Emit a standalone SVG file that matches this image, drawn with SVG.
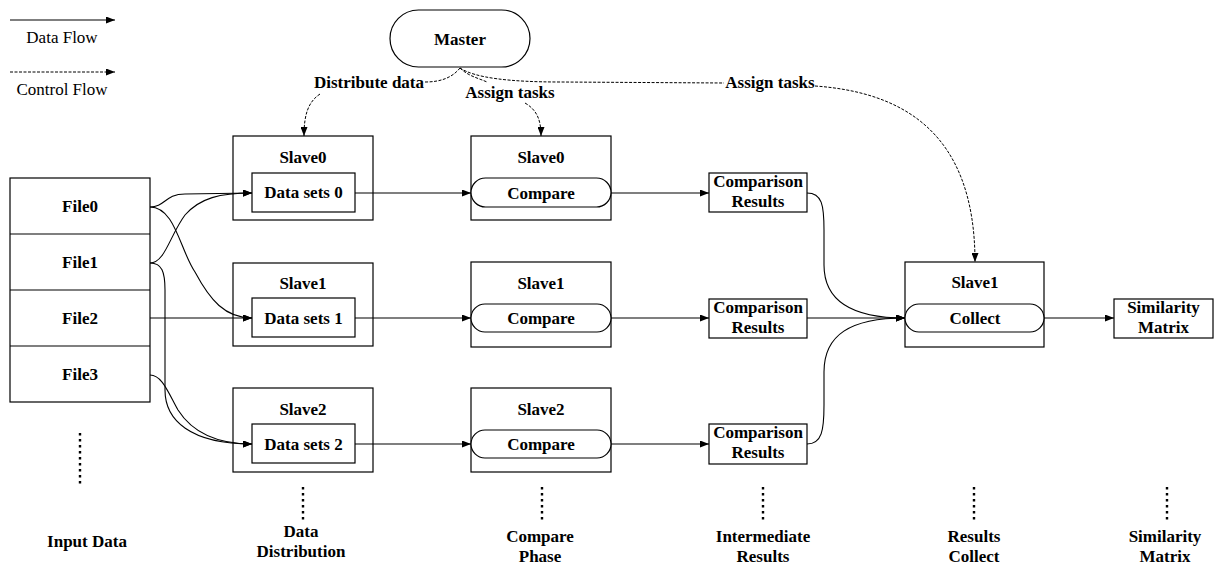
<svg xmlns="http://www.w3.org/2000/svg" width="1215" height="565" viewBox="0 0 1215 565">
<style>
text{font-family:"Liberation Serif","Times New Roman",serif;font-size:17px;fill:#000}
.b{font-weight:bold;text-anchor:middle}
.r{text-anchor:middle}
.box{fill:#fff;stroke:#000;stroke-width:1.2}
.c{fill:none;stroke:#000;stroke-width:1.1}
.d{fill:none;stroke:#000;stroke-width:1;stroke-dasharray:3 1.5}
.dot{fill:none;stroke:#000;stroke-width:2.4;stroke-dasharray:2.4 3.6}
</style>
<defs>
<marker id="ah" markerWidth="9" markerHeight="7" refX="9" refY="3.5" orient="auto" markerUnits="userSpaceOnUse">
<path d="M0,0 L9,3.5 L0,7 z" fill="#000"/>
</marker>
</defs>

<g id="legend">
<line class="c" x1="10" y1="20" x2="115" y2="20" marker-end="url(#ah)"/>
<text x="62" y="43" class="r">Data Flow</text>
<line class="d" x1="10" y1="72" x2="115" y2="72" marker-end="url(#ah)"/>
<text x="62" y="95" class="r">Control Flow</text>
</g>

<g id="master">
<rect class="box" x="390" y="10" width="140" height="57" rx="28.5"/>
<text x="460" y="45" class="b">Master</text>
</g>

<g id="files">
<rect class="box" x="10" y="178" width="140" height="224"/>
<line class="c" x1="10" y1="234" x2="150" y2="234"/>
<line class="c" x1="10" y1="290" x2="150" y2="290"/>
<line class="c" x1="10" y1="346" x2="150" y2="346"/>
<text x="80" y="212" class="b">File0</text>
<text x="80" y="268" class="b">File1</text>
<text x="80" y="324" class="b">File2</text>
<text x="80" y="380" class="b">File3</text>
</g>

<g id="dist0">
<rect class="box" x="233" y="136" width="140" height="84"/>
<text x="303" y="163" class="b">Slave0</text>
<rect class="box" x="252" y="173" width="103" height="39"/>
<text x="303.5" y="198" class="b">Data sets 0</text>
</g>
<g id="dist1">
<rect class="box" x="233" y="263" width="140" height="83"/>
<text x="303" y="289" class="b">Slave1</text>
<rect class="box" x="252" y="298" width="103" height="39"/>
<text x="303.5" y="323.5" class="b">Data sets 1</text>
</g>
<g id="dist2">
<rect class="box" x="233" y="388" width="140" height="84"/>
<text x="303" y="415" class="b">Slave2</text>
<rect class="box" x="252" y="424" width="103" height="39"/>
<text x="303.5" y="449.5" class="b">Data sets 2</text>
</g>

<g id="cmp0">
<rect class="box" x="471" y="136" width="140" height="84"/>
<text x="541" y="163" class="b">Slave0</text>
<rect class="box" x="471" y="178" width="140" height="29" rx="14.5"/>
<text x="541" y="199" class="b">Compare</text>
</g>
<g id="cmp1">
<rect class="box" x="471" y="262" width="140" height="85"/>
<text x="541" y="289" class="b">Slave1</text>
<rect class="box" x="471" y="304" width="140" height="28" rx="14"/>
<text x="541" y="324" class="b">Compare</text>
</g>
<g id="cmp2">
<rect class="box" x="471" y="388" width="140" height="84"/>
<text x="541" y="415" class="b">Slave2</text>
<rect class="box" x="471" y="430" width="140" height="28" rx="14"/>
<text x="541" y="450" class="b">Compare</text>
</g>

<g id="res0">
<rect class="box" x="709" y="173" width="98" height="39"/>
<text x="758" y="187" class="b">Comparison</text>
<text x="758" y="207" class="b">Results</text>
</g>
<g id="res1">
<rect class="box" x="709" y="299" width="98" height="39"/>
<text x="758" y="313" class="b">Comparison</text>
<text x="758" y="333" class="b">Results</text>
</g>
<g id="res2">
<rect class="box" x="709" y="424" width="98" height="40"/>
<text x="758" y="438" class="b">Comparison</text>
<text x="758" y="458" class="b">Results</text>
</g>

<g id="collect">
<rect class="box" x="905" y="262" width="139" height="85"/>
<text x="975" y="288" class="b">Slave1</text>
<rect class="box" x="905" y="304" width="139" height="28" rx="14"/>
<text x="975" y="324" class="b">Collect</text>
</g>

<g id="matrix">
<rect class="box" x="1114" y="299" width="99" height="39"/>
<text x="1163.5" y="313" class="b">Similarity</text>
<text x="1163.5" y="333" class="b">Matrix</text>
</g>

<g id="labels">
<text x="424" y="88" style="text-anchor:end;font-weight:bold">Distribute data</text>
<text x="510" y="98" class="b">Assign tasks</text>
<text x="770" y="88" class="b">Assign tasks</text>
</g>

<g id="connectors">
<path class="c" d="M150,207 C165,207 165,194 185,194 L252,193" marker-end="url(#ah)"/>
<path class="c" d="M150,207 C175,207 180,250 195,272 C210,300 225,318 252,318" marker-end="url(#ah)"/>
<path class="c" d="M150,263 C165,263 170,235 185,215 C200,198 220,193 252,193" marker-end="url(#ah)"/>
<path class="c" d="M150,263 C162,263 165,272 165,290 L165,390 C165,420 190,444 252,444" marker-end="url(#ah)"/>
<path class="c" d="M150,318 L252,318" marker-end="url(#ah)"/>
<path class="c" d="M150,375 C162,375 168,392 178,410 C192,432 215,444 252,444" marker-end="url(#ah)"/>

<line class="c" x1="355" y1="193" x2="471" y2="193" marker-end="url(#ah)"/>
<line class="c" x1="355" y1="318" x2="471" y2="318" marker-end="url(#ah)"/>
<line class="c" x1="355" y1="444" x2="471" y2="444" marker-end="url(#ah)"/>
<line class="c" x1="611" y1="193" x2="709" y2="193" marker-end="url(#ah)"/>
<line class="c" x1="611" y1="318" x2="709" y2="318" marker-end="url(#ah)"/>
<line class="c" x1="611" y1="444" x2="709" y2="444" marker-end="url(#ah)"/>

<path class="c" d="M807,193 C822,193 824,205 824,230 L824,265 C824,300 850,318 905,318" marker-end="url(#ah)"/>
<line class="c" x1="807" y1="318" x2="905" y2="318" marker-end="url(#ah)"/>
<path class="c" d="M807,444 C822,444 824,430 824,405 L824,372 C824,335 850,318 905,318" marker-end="url(#ah)"/>
<line class="c" x1="1044" y1="318" x2="1114" y2="318" marker-end="url(#ah)"/>

<path class="d" d="M460,68 C452,78 440,82 425,82"/>
<path class="d" d="M320,94 C308,102 304,115 304,136" marker-end="url(#ah)"/>
<path class="d" d="M460,68 C468,76 478,78 487,82"/>
<path class="d" d="M525,103 C537,110 541,120 541,136" marker-end="url(#ah)"/>
<path class="d" d="M460,68 C475,78 510,82 560,82 L724,83"/>
<path class="d" d="M815,86 C900,92 975,130 975,262" marker-end="url(#ah)"/>
</g>

<g id="footer">
<line class="dot" x1="80" y1="433" x2="80" y2="484"/>
<line class="dot" x1="303" y1="487" x2="303" y2="520"/>
<line class="dot" x1="542" y1="487" x2="542" y2="520"/>
<line class="dot" x1="763" y1="487" x2="763" y2="520"/>
<line class="dot" x1="974" y1="487" x2="974" y2="520"/>
<line class="dot" x1="1167" y1="487" x2="1167" y2="520"/>
<text x="87" y="547" class="b">Input Data</text>
<text x="301" y="537" class="b">Data</text>
<text x="301" y="557" class="b">Distribution</text>
<text x="540" y="542" class="b">Compare</text>
<text x="540" y="562" class="b">Phase</text>
<text x="763" y="542" class="b">Intermediate</text>
<text x="763" y="562" class="b">Results</text>
<text x="974" y="542" class="b">Results</text>
<text x="974" y="562" class="b">Collect</text>
<text x="1165" y="542" class="b">Similarity</text>
<text x="1165" y="562" class="b">Matrix</text>
</g>
</svg>
